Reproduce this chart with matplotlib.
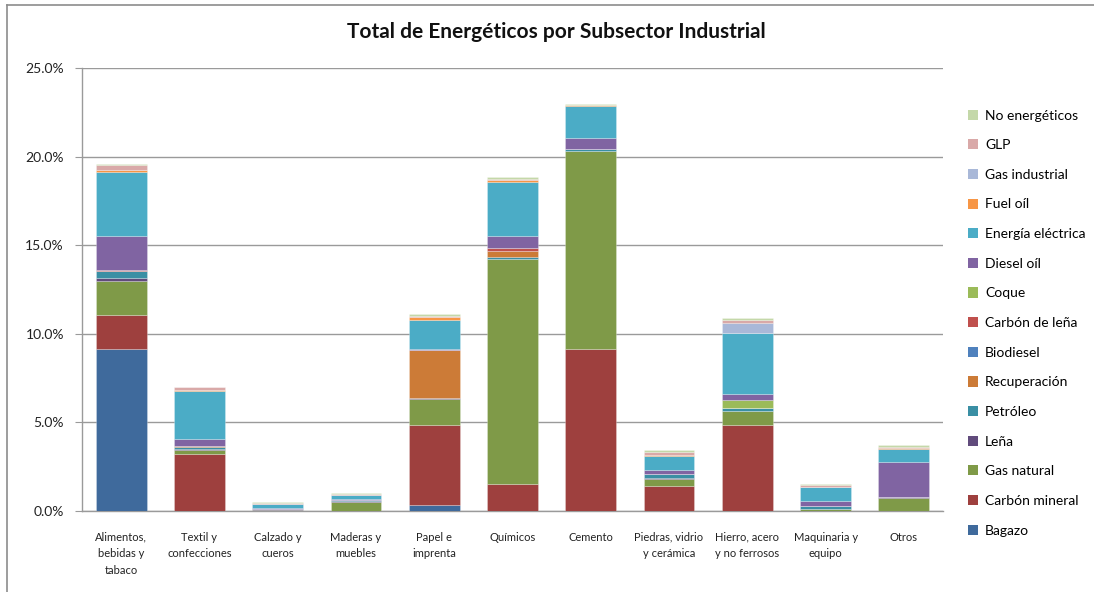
import matplotlib
matplotlib.use("Agg")
import matplotlib.pyplot as plt
import numpy as np
from matplotlib.lines import Line2D
from matplotlib.ticker import FuncFormatter, MultipleLocator

plt.rcParams['font.family'] = ['Lato', 'DejaVu Sans']

categories = ["Alimentos,\nbebidas y\ntabaco", "Textil y\nconfecciones", "Calzado y\ncueros",
              "Maderas y\nmuebles", "Papel e\nimprenta", "Químicos", "Cemento",
              "Piedras, vidrio\ny cerámica", "Hierro, acero\ny no ferrosos",
              "Maquinaria y\nequipo", "Otros"]

series_names = ["Bagazo", "Carbón mineral", "Gas natural", "Leña", "Petróleo", "Recuperación",
                "Biodiesel", "Carbón de leña", "Coque", "Diesel oíl", "Energía eléctrica",
                "Fuel oíl", "Gas industrial", "GLP", "No energéticos"]

bagazo          = [9.12, 0.00, 0.00, 0.00, 0.36, 0.00, 0.00, 0.00, 0.00, 0.00, 0.00]
carbon_mineral  = [1.95, 3.20, 0.00, 0.00, 4.52, 1.55, 9.12, 1.43, 4.88, 0.00, 0.00]
gas_natural     = [1.93, 0.27, 0.08, 0.53, 1.43, 12.65, 11.20, 0.36, 0.77, 0.10, 0.76]
lena            = [0.13, 0.03, 0.02, 0.05, 0.05, 0.03, 0.00, 0.05, 0.00, 0.00, 0.05]
petroleo        = [0.41, 0.09, 0.03, 0.06, 0.00, 0.12, 0.10, 0.25, 0.15, 0.16, 0.00]
recuperacion    = [0.00, 0.10, 0.00, 0.00, 2.73, 0.32, 0.00, 0.00, 0.00, 0.00, 0.00]
biodiesel       = [0.00, 0.00, 0.00, 0.00, 0.00, 0.00, 0.00, 0.00, 0.00, 0.00, 0.00]
carbon_lena     = [0.05, 0.00, 0.00, 0.00, 0.00, 0.15, 0.00, 0.00, 0.00, 0.00, 0.00]
coque           = [0.00, 0.00, 0.00, 0.00, 0.00, 0.00, 0.00, 0.00, 0.44, 0.00, 0.00]
diesel          = [1.93, 0.40, 0.02, 0.03, 0.08, 0.72, 0.62, 0.23, 0.39, 0.32, 1.98]
energia         = [3.60, 2.71, 0.27, 0.25, 1.60, 3.05, 1.84, 0.79, 3.43, 0.76, 0.70]
fuel_oil        = [0.13, 0.05, 0.00, 0.00, 0.15, 0.10, 0.04, 0.04, 0.00, 0.00, 0.06]
gas_industrial  = [0.00, 0.00, 0.00, 0.00, 0.00, 0.00, 0.00, 0.00, 0.56, 0.00, 0.00]
glp             = [0.28, 0.12, 0.04, 0.04, 0.10, 0.05, 0.00, 0.18, 0.15, 0.11, 0.07]
no_energeticos  = [0.08, 0.05, 0.04, 0.06, 0.08, 0.10, 0.04, 0.12, 0.10, 0.10, 0.09]

series_values = [bagazo, carbon_mineral, gas_natural, lena, petroleo, recuperacion, biodiesel,
                 carbon_lena, coque, diesel, energia, fuel_oil, gas_industrial, glp, no_energeticos]

colors = ["#3F6A9C", "#9E403E", "#7F9A48", "#614B7C", "#3A8FA4", "#CC7B37", "#4F81BD",
          "#C0504D", "#9BBB59", "#8064A2", "#4BACC6", "#F79646", "#A9B8D8", "#D9A9A8", "#C4D8A9"]

W, H = 1094, 592
fig = plt.figure(figsize=(W / 100, H / 100), dpi=100)
ax = fig.add_axes([82 / W, 1 - 511 / H, (943 - 82) / W, (511 - 68) / H])

x = np.arange(len(categories))
bottom = np.zeros(len(categories))
for name, vals, col in zip(series_names, series_values, colors):
    v = np.array(vals) / 100.0
    ax.bar(x, v, width=0.65, bottom=bottom, color=col, edgecolor=(1, 1, 1, 0.35),
           linewidth=0.5, label=name, zorder=3)
    bottom += v

ax.set_xlim(-0.5, len(categories) - 0.5)
ax.set_ylim(0, 0.25)
ax.yaxis.set_major_locator(MultipleLocator(0.05))
ax.yaxis.set_major_formatter(FuncFormatter(lambda v, p: f"{v*100:.1f}%"))
ax.grid(axis='y', color='#9A9A9A', linewidth=1.0, zorder=0)
ax.set_axisbelow(True)
for s in ['top', 'right']:
    ax.spines[s].set_visible(False)
for s in ['left', 'bottom']:
    ax.spines[s].set_color('#9A9A9A')
    ax.spines[s].set_linewidth(1.0)
ax.tick_params(axis='y', length=5, color='#9A9A9A', labelsize=10, pad=8, labelcolor='#222222')
ax.tick_params(axis='x', length=0, labelsize=8, pad=15, labelcolor='#222222')
ax.set_xticks(x)
ax.set_xticklabels(categories, linespacing=1.6, va='top')

fig.text(556 / W, 1 - 32 / H, "Total de Energéticos por Subsector Industrial",
         ha='center', va='center', fontsize=15, fontweight='bold', color='#111111')

handles, labels = ax.get_legend_handles_labels()
leg = fig.legend(handles[::-1], labels[::-1], loc='upper left',
                 bbox_to_anchor=(962 / W, 1 - 104 / H), frameon=False, fontsize=10,
                 handlelength=0.75, handleheight=0.75, handletextpad=0.5,
                 labelspacing=1.27, borderaxespad=0)
for hnd in leg.legend_handles:
    hnd.set_edgecolor('none')

# outer chart border (top and left visible)
fig.add_artist(Line2D([7 / W, 7 / W], [0, 1 - 5 / H], transform=fig.transFigure,
                      color='#8C8C8C', linewidth=1.2))
fig.add_artist(Line2D([7 / W, 1], [1 - 5 / H, 1 - 5 / H], transform=fig.transFigure,
                      color='#8C8C8C', linewidth=1.2))

fig.savefig("out.png", dpi=100)
